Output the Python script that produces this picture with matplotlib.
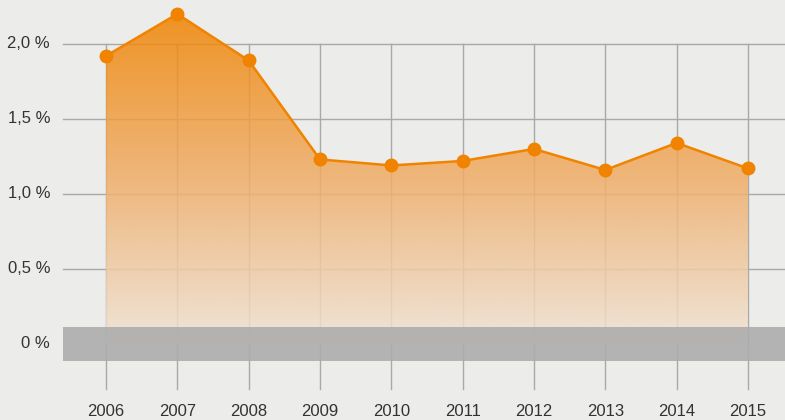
import numpy as np
import matplotlib
matplotlib.use("Agg")
import matplotlib.pyplot as plt
from matplotlib.colors import LinearSegmentedColormap

years  = [2006, 2007, 2008, 2009, 2010, 2011, 2012, 2013, 2014, 2015]
values = [1.92, 2.20, 1.89, 1.23, 1.19, 1.22, 1.30, 1.16, 1.34, 1.17]
y_ticks  = [0.0, 0.5, 1.0, 1.5, 2.0]
y_labels = ["0 %", "0,5 %", "1,0 %", "1,5 %", "2,0 %"]

BG     = "#ececea"
ORANGE = "#f08300"
GRID   = "#a9a9a7"

fig = plt.figure(figsize=(7.85, 4.2), dpi=100, facecolor=BG)
ax = fig.add_axes([0, 0, 1, 1])
ax.set_facecolor(BG)
x0, x1 = 2004.514, 2015.519
y0, y1 = -0.507, 2.293
ax.set_xlim(x0, x1)
ax.set_ylim(y0, y1)
ax.axis("off")

# grid
for yt in y_ticks[1:]:
    ax.plot([2005.397, x1], [yt, yt], color=GRID, lw=1.0, zorder=1)
for yr in years:
    ax.plot([yr, yr], [2.0, -0.30], color=GRID, lw=1.0, zorder=1)

# gradient area (semi-transparent so the grid shows through)
cmap = LinearSegmentedColormap.from_list("g", ["#efe4d6", "#efad68", ORANGE])
grad = np.linspace(0, 1, 256).reshape(-1, 1)
top = max(values)
im = ax.imshow(grad, extent=[years[0], years[-1], 0, top], origin="lower",
               cmap=cmap, aspect="auto", alpha=0.85, zorder=2)
poly = ax.fill_between(years, values, 0, color="none", lw=0)
im.set_clip_path(poly.get_paths()[0], transform=ax.transData)

ax.plot(years, values, color=ORANGE, lw=1.8, marker="o", ms=9, zorder=4)

# zero band
ax.fill_between([2005.397, x1], -0.113, 0.113, color="#adadad", alpha=0.9, lw=0, zorder=3)

# labels
for yt, lab in zip(y_ticks, y_labels):
    ax.text(2005.215, yt, lab, ha="right", va="center", fontsize=12,
            color="#333333", family="Liberation Sans")
for yr in years:
    ax.text(yr, -0.447, str(yr), ha="center", va="center", fontsize=12,
            color="#333333", family="Liberation Sans")

fig.savefig("out.png", dpi=100, facecolor=BG)
